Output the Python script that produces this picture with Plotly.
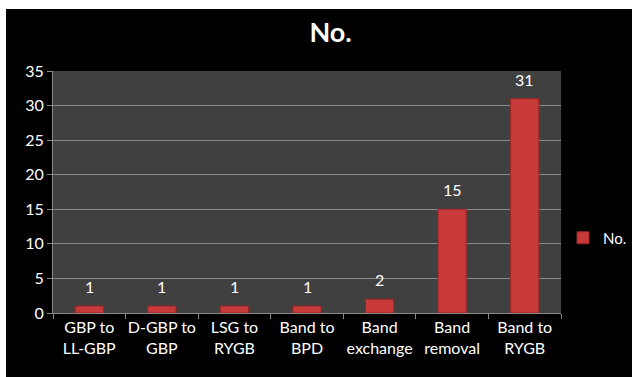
import plotly.graph_objects as go

categories = ["GBP to<br>LL-GBP", "D-GBP to<br>GBP", "LSG to<br>RYGB", "Band to<br>BPD",
              "Band<br>exchange", "Band<br>removal", "Band to<br>RYGB"]
values = [1, 1, 1, 1, 2, 15, 31]
series_name = "No."
y_ticks = [0, 5, 10, 15, 20, 25, 30, 35]

FONT = "Lato, 'Open Sans', sans-serif"
W, H = 632, 377
L, R, T, B = 53, 71, 71, 64
PW, PH = W - L - R, H - T - B

fig = go.Figure()
fig.add_trace(go.Bar(
    x=categories, y=values, name=series_name,
    marker=dict(color="#C83A3A", line=dict(color="#9A2525", width=1)),
    showlegend=True,
))

for c, v in zip(categories, values):
    fig.add_annotation(x=c, y=v, text=str(v), showarrow=False, yanchor="bottom",
                       yshift=8, font=dict(family=FONT, size=16, color="white"))

fig.update_layout(
    width=W, height=H,
    paper_bgcolor="black", plot_bgcolor="#404040",
    margin=dict(l=L, r=R, t=T, b=B, pad=0, autoexpand=False),
    bargap=0.61,
    title=dict(text="<b>No.</b>", x=0.523, xanchor="center", y=1 - 33 / H, yanchor="middle",
               font=dict(family=FONT, size=27, color="white")),
    font=dict(family=FONT, size=16, color="white"),
    legend=dict(x=(563 - L) / PW, y=(H - B - 238) / PH, xanchor="left", yanchor="middle",
                font=dict(family=FONT, size=15, color="white"), bgcolor="rgba(0,0,0,0)"),
    shapes=[
        dict(type="rect", xref="paper", yref="paper", x0=-L / PW, x1=-(L - 6) / PW,
             y0=-B / PH, y1=(H - B) / PH,
             fillcolor="white", line=dict(width=0), layer="above"),
        dict(type="rect", xref="paper", yref="paper", x0=-L / PW, x1=(W - L) / PW,
             y0=(H - B - 9) / PH, y1=(H - B) / PH,
             fillcolor="white", line=dict(width=0), layer="above"),
    ],
)
fig.update_yaxes(range=[0, 35], tickvals=y_ticks, showgrid=True, gridcolor="#8a8a8a", gridwidth=1,
                 showline=True, linecolor="#8a8a8a", ticks="outside", ticklen=5, tickcolor="#8a8a8a",
                 zeroline=False, tickfont=dict(size=16, color="white"))
fig.update_xaxes(showline=True, linecolor="#8a8a8a", ticks="outside", ticklen=5, tickcolor="#8a8a8a",
                 tickson="boundaries", tickangle=0, tickfont=dict(size=16, color="white"),
                 showgrid=False)

fig.write_html("out.html", config={"displayModeBar": False})
